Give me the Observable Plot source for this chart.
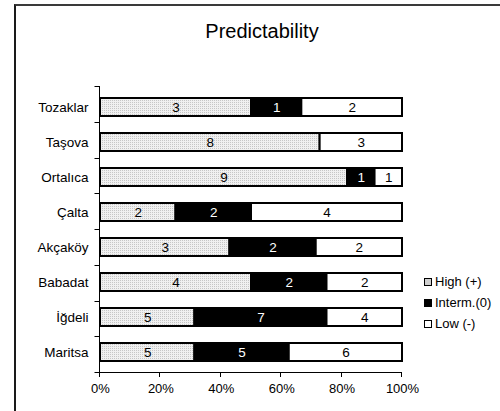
<!DOCTYPE html>
<html>
<head>
<meta charset="utf-8">
<script src="https://cdn.jsdelivr.net/npm/d3@7"></script>
<script src="https://cdn.jsdelivr.net/npm/@observablehq/plot@0.6"></script>
<style>
  html, body { margin: 0; padding: 0; background: #fff; }
  #wrap { position: relative; width: 500px; height: 411px; overflow: hidden; font-family: "Liberation Sans", Arial, sans-serif; }
  #frame { position: absolute; left: 14px; top: 4px; width: 600px; height: 600px; border-left: 2px solid #1a1a1a; border-top: 2px solid #3a3a3a; box-sizing: border-box; }
  #title { position: absolute; left: 0; top: 21px; width: 524px; text-align: center; font-size: 20px; line-height: 20px; color: #000; }
  #chart { position: absolute; left: 0; top: 0; }
  .lg { position: absolute; left: 424px; font-size: 13px; line-height: 14px; height: 14px; color: #000; white-space: nowrap; }
  .lg span.sw { display: inline-block; width: 6px; height: 6px; border: 1.5px solid #000; vertical-align: 0px; margin-right: 3px; }
</style>
</head>
<body>
<div id="wrap">
  <div id="frame"></div>
  <div id="chart"></div>
  <div id="title">Predictability</div>
</div>
<script>
const title = "Predictability";
const sites = ["Tozaklar", "Taşova", "Ortalıca", "Çalta", "Akçaköy", "Babadat", "İğdeli", "Maritsa"];
const series = ["High (+)", "Interm.(0)", "Low (-)"];
const high   = [3, 8, 9, 2, 3, 4, 5, 5];
const interm = [1, 0, 1, 2, 2, 2, 7, 5];
const low    = [2, 3, 1, 4, 2, 2, 4, 6];
const xTicks = [0, 0.2, 0.4, 0.6, 0.8, 1];

const values = [high, interm, low];
const rows = [];
sites.forEach((site, i) => {
  series.forEach((s, j) => rows.push({site, series: s, value: values[j][i]}));
});

const fills = ["url(#dots)", "#000000", "#ffffff"];
const textFills = ["#000000", "#ffffff", "#000000"];

function axesMark(index, scales, channels, dims) {
  const {height, marginTop, marginBottom} = dims;
  const g = d3.create("svg:g").attr("stroke", "#000").attr("stroke-width", 1).attr("fill", "none");
  const x0 = Math.round(scales.x(0)) - 0.5;
  const x1 = scales.x(1);
  const yb = height - marginBottom;
  const step = (height - marginTop - marginBottom) / sites.length;
  g.append("line").attr("x1", x0).attr("x2", x0).attr("y1", marginTop).attr("y2", yb);
  for (let i = 0; i <= sites.length; i++) {
    const y = Math.round(marginTop + i * step) + 0.5;
    g.append("line").attr("x1", x0 - 5).attr("x2", x0).attr("y1", y).attr("y2", y);
  }
  g.append("line").attr("x1", x0).attr("x2", x1).attr("y1", Math.round(yb) + 0.5).attr("y2", Math.round(yb) + 0.5);
  for (const t of xTicks) {
    const x = Math.round(scales.x(t)) - 0.5;
    g.append("line").attr("x1", x).attr("x2", x).attr("y1", yb).attr("y2", yb + 5);
  }
  return g.node();
}

const stackOpts = {x: "value", y: "site", z: "series", offset: "normalize", order: series};

const chart = Plot.plot({
  width: 500,
  height: 411,
  marginLeft: 100,
  marginRight: 98,
  marginTop: 86,
  marginBottom: 39,
  style: {fontFamily: "'Liberation Sans', Arial, sans-serif", fontSize: "13px", background: "transparent", overflow: "visible"},
  x: {domain: [0, 1], ticks: xTicks, tickFormat: d => Math.round(d * 100) + "%", tickSize: 0, tickPadding: 11, label: null},
  y: {domain: sites, paddingInner: 0.5, paddingOuter: 0.25, tickSize: 0, tickPadding: 12, label: null},
  color: {domain: series, range: fills},
  marks: [
    Plot.barX(rows, Plot.stackX({...stackOpts, fill: "series", stroke: "#000", strokeWidth: 2})),
    Plot.text(rows, Plot.filter(d => d.value > 0, Plot.stackX({
      ...stackOpts,
      text: d => String(d.value),
      fill: d => textFills[series.indexOf(d.series)],
      fontSize: 13.5
    }))),
    axesMark
  ]
});

// dotted pattern fill for the "High" series
const svg = d3.select(chart);
svg.selectAll("g[aria-label='y-axis tick label'] text, g[aria-label='y-axis'] text").attr("font-size", 13.5);
const defs = svg.insert("defs", ":first-child");
const pat = defs.append("pattern").attr("id", "dots").attr("patternUnits", "userSpaceOnUse")
  .attr("width", 2).attr("height", 2);
pat.append("rect").attr("width", 2).attr("height", 2).attr("fill", "#f0f0f0");
pat.append("rect").attr("width", 1).attr("height", 1).attr("fill", "#c6c6c6");

document.getElementById("chart").appendChild(chart);
document.getElementById("title").textContent = title;

// legend
const wrap = document.getElementById("wrap");
const swatchBg = ["#cfcfcf", "#000000", "#ffffff"];
series.forEach((s, j) => {
  const div = document.createElement("div");
  div.className = "lg";
  div.style.top = (275 + j * 21) + "px";
  const sw = document.createElement("span");
  sw.className = "sw";
  sw.style.background = swatchBg[j];
  div.appendChild(sw);
  div.appendChild(document.createTextNode(s));
  wrap.appendChild(div);
});
</script>
</body>
</html>
